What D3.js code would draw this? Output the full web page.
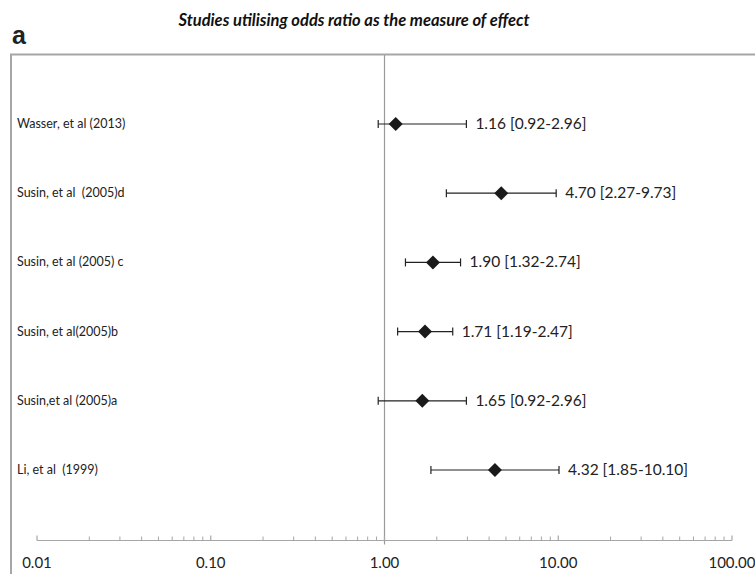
<!DOCTYPE html>
<html>
<head>
<meta charset="utf-8">
<script src="https://cdn.jsdelivr.net/npm/d3@7"></script>
<style>
  body { margin: 0; background: #fff; }
  svg { display: block; }
</style>
</head>
<body>
<script>
// forest plot, odds ratios on a log axis
var studies = ['Wasser, et al (2013)', 'Susin, et al  (2005)d', 'Susin, et al (2005) c',
               'Susin, et al(2005)b', 'Susin,et al (2005)a', 'Li, et al  (1999)'];
var oddsRatio = [1.16, 4.70, 1.90, 1.71, 1.65, 4.32];
var lowerCI = [0.92, 2.27, 1.32, 1.19, 0.92, 1.85];
var upperCI = [2.96, 9.73, 2.74, 2.47, 2.96, 10.10];
var tickValues = [0.01, 0.1, 1, 10, 100];
var tickLabels = ['0.01', '0.10', '1.00', '10.00', '100.00'];

var width = 755, height = 574;
var svg = d3.select('body').append('svg').attr('width', width).attr('height', height);
var font = 'Lato, "Open Sans", sans-serif';

var x = d3.scaleLog().domain([0.01, 100]).range([37, 732]);
var y = d3.scalePoint().domain(studies).range([124, 470]);
var axisY = 540.5;

// frame
svg.append('path')
   .attr('d', 'M11,' + height + 'V54.5H' + (width + 5))
   .attr('fill', 'none').attr('stroke', '#a6a6a6').attr('stroke-width', 2);

// panel letter + title
svg.append('text').attr('x', 12).attr('y', 44).text('a')
   .attr('font-family', '"Liberation Sans", Arial, sans-serif')
   .attr('font-weight', 'bold').attr('font-size', 25).attr('fill', '#222');
svg.append('text').attr('x', 354).attr('y', 26).attr('text-anchor', 'middle')
   .text('Studies utilising odds ratio as the measure of effect')
   .attr('font-family', font).attr('font-style', 'italic').attr('font-weight', 'bold')
   .attr('font-size', 16.5).attr('fill', '#111');

// reference line at 1
svg.append('line')
   .attr('x1', x(1)).attr('x2', x(1)).attr('y1', 55).attr('y2', axisY + 4)
   .attr('stroke', '#999').attr('stroke-width', 1.2);

// axis (ticks pointing up)
var minor = [];
for (var e = -2; e < 2; e++) {
  for (var m = 2; m < 10; m++) minor.push(m * Math.pow(10, e));
}
var ax = svg.append('g');
ax.append('line').attr('x1', x(0.01)).attr('x2', x(100)).attr('y1', axisY).attr('y2', axisY)
  .attr('stroke', '#a6a6a6').attr('stroke-width', 1.2);
ax.selectAll('.maj').data(tickValues).enter().append('line')
  .attr('x1', function (d) { return x(d); }).attr('x2', function (d) { return x(d); })
  .attr('y1', axisY).attr('y2', axisY - 5)
  .attr('stroke', '#a6a6a6').attr('stroke-width', 1.2);
ax.selectAll('.min').data(minor).enter().append('line')
  .attr('x1', function (d) { return x(d); }).attr('x2', function (d) { return x(d); })
  .attr('y1', axisY).attr('y2', axisY - 4)
  .attr('stroke', '#a6a6a6').attr('stroke-width', 1);
ax.selectAll('text').data(tickValues).enter().append('text')
  .attr('x', function (d) { return x(d); }).attr('y', 568)
  .attr('text-anchor', 'middle')
  .text(function (d, i) { return tickLabels[i]; })
  .attr('font-family', font).attr('font-size', 15).attr('fill', '#222');

// rows
var rows = svg.selectAll('.row').data(studies).enter().append('g')
  .attr('transform', function (d) { return 'translate(0,' + y(d) + ')'; });

rows.append('text').attr('x', 17).attr('y', 4)
  .text(function (d) { return d; })
  .attr('font-family', font).attr('font-size', 12.5).attr('fill', '#222')
  .attr('xml:space', 'preserve').style('white-space', 'pre');

rows.append('line')
  .attr('x1', function (d, i) { return x(lowerCI[i]); })
  .attr('x2', function (d, i) { return x(upperCI[i]); })
  .attr('stroke', '#222').attr('stroke-width', 1.2);
rows.append('line')
  .attr('x1', function (d, i) { return x(lowerCI[i]); })
  .attr('x2', function (d, i) { return x(lowerCI[i]); })
  .attr('y1', -4).attr('y2', 4).attr('stroke', '#222').attr('stroke-width', 1.2);
rows.append('line')
  .attr('x1', function (d, i) { return x(upperCI[i]); })
  .attr('x2', function (d, i) { return x(upperCI[i]); })
  .attr('y1', -4).attr('y2', 4).attr('stroke', '#222').attr('stroke-width', 1.2);

rows.append('path')
  .attr('d', function (d, i) {
    var cx = x(oddsRatio[i]);
    return 'M' + (cx - 7) + ',0L' + cx + ',-7L' + (cx + 7) + ',0L' + cx + ',7Z';
  })
  .attr('fill', '#1a1a1a');

rows.append('text')
  .attr('x', function (d, i) { return x(upperCI[i]) + 9; }).attr('y', 5)
  .text(function (d, i) {
    return oddsRatio[i].toFixed(2) + ' [' + lowerCI[i].toFixed(2) + '-' + upperCI[i].toFixed(2) + ']';
  })
  .attr('font-family', font).attr('font-size', 15.5).attr('fill', '#222');
</script>
</body>
</html>
